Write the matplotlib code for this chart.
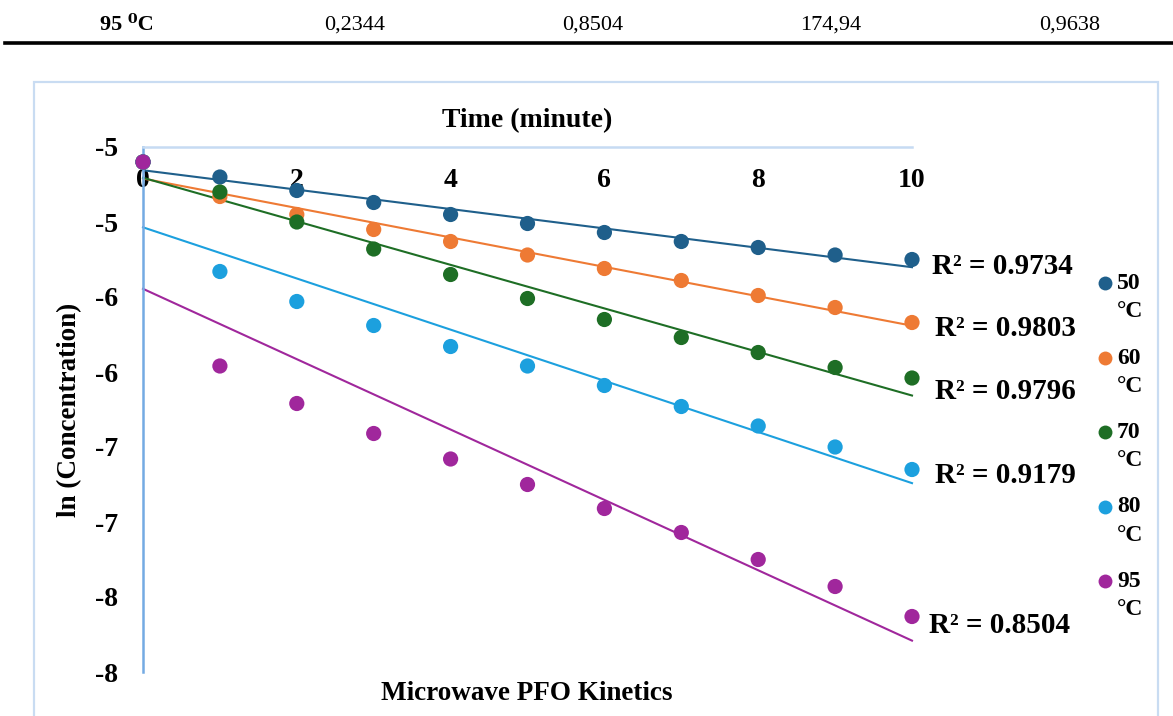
import numpy as np
import matplotlib
matplotlib.use("Agg")
import matplotlib.pyplot as plt
from matplotlib.patches import Rectangle
from matplotlib.lines import Line2D

# ---- data -------------------------------------------------------------
time_min = [0, 1, 2, 3, 4, 5, 6, 7, 8, 9, 10]
series_names = ["50\n°C", "60\n°C", "70\n°C", "80\n°C", "95\n°C"]
ln_c_50 = [-4.60, -4.70, -4.79, -4.87, -4.95, -5.01, -5.07, -5.13, -5.17, -5.22, -5.25]
ln_c_60 = [-4.60, -4.83, -4.95, -5.05, -5.13, -5.22, -5.31, -5.39, -5.49, -5.57, -5.67]
ln_c_70 = [-4.60, -4.80, -5.00, -5.18, -5.35, -5.51, -5.65, -5.77, -5.87, -5.97, -6.04]
ln_c_80 = [-4.60, -5.33, -5.53, -5.69, -5.83, -5.96, -6.09, -6.23, -6.36, -6.50, -6.65]
ln_c_95 = [-4.60, -5.96, -6.21, -6.41, -6.58, -6.75, -6.91, -7.07, -7.25, -7.43, -7.63]
r_squared = [0.9734, 0.9803, 0.9796, 0.9179, 0.8504]

x_ticks = [0, 2, 4, 6, 8, 10]
y_ticks = [-8.0, -7.5, -7.0, -6.5, -6.0, -5.5, -5.0, -4.5]
y_tick_labels = ["-8", "-8", "-7", "-7", "-6", "-6", "-5", "-5"]

table_row = ["95 ⁰C", "0,2344", "0,8504", "174,94", "0,9638"]

# ---- style ------------------------------------------------------------
colors = ["#1F5F8B", "#EE7A34", "#1E6E25", "#1CA0DE", "#A0279C"]
serif = ["Liberation Serif", "DejaVu Serif"]
plt.rcParams["font.family"] = serif

W, H = 1173, 716
fig = plt.figure(figsize=(W / 100, H / 100), dpi=100)


def fx(px):
    return px / W


def fy(py):
    return 1 - py / H


# table row above the chart
row_x = [127, 355, 593, 831, 1070]
for i, (txt, x) in enumerate(zip(table_row, row_x)):
    fig.text(fx(x), fy(25), txt, ha="center", va="center", fontsize=16,
             fontweight="bold" if i == 0 else "normal", family=serif)
fig.add_artist(Line2D([fx(5), fx(1173)], [fy(42.5), fy(42.5)],
                      transform=fig.transFigure, color="black", lw=2.6))

# chart frame
fig.add_artist(Rectangle((fx(34), fy(760)), fx(1158) - fx(34), fy(82) - fy(760),
                         transform=fig.transFigure, fill=False,
                         edgecolor="#C9DCF2", lw=1.6, clip_on=False))

# plot area
ax = fig.add_axes([fx(143), fy(672), fx(912) - fx(143), fy(147) - fy(672)])
ax.set_xlim(0, 10)
ax.set_ylim(-8, -4.5)
ax.patch.set_alpha(0)

for s in ("right", "bottom"):
    ax.spines[s].set_visible(False)
ax.spines["left"].set_color("#74AAE3")
ax.spines["left"].set_linewidth(1.8)
ax.spines["top"].set_color("#C6DBF3")
ax.spines["top"].set_linewidth(1.8)

ax.xaxis.tick_top()
ax.set_xticks(x_ticks)
ax.set_xticklabels([str(v) for v in x_ticks])
ax.tick_params(axis="x", length=0, pad=-33, labelsize=20)
ax.set_yticks(y_ticks)
ax.set_yticklabels(y_tick_labels)
ax.tick_params(axis="y", length=0, pad=18, labelsize=20)
for lab in ax.get_xticklabels() + ax.get_yticklabels():
    lab.set_fontweight("bold")

t = np.array(time_min, dtype=float)
all_series = [ln_c_50, ln_c_60, ln_c_70, ln_c_80, ln_c_95]
for vals, col, name in zip(all_series, colors, series_names):
    y = np.array(vals)
    slope, icpt = np.polyfit(t, y, 1)
    ax.plot([0, 10], [icpt, icpt + slope * 10], color=col, lw=1.5, zorder=2,
            clip_on=False)
    ax.scatter(t, y, s=120, color=col, zorder=3, clip_on=False,
               edgecolors="none", label=name)

# R² annotations next to the trend-line ends
r2_pos = [(10.26, -5.30), (10.30, -5.71), (10.30, -6.13), (10.30, -6.69), (10.22, -7.69)]
for (x, y), r2 in zip(r2_pos, r_squared):
    ax.text(x, y, f"R² = {r2:.4f}", ha="left", va="center", fontsize=21,
            fontweight="bold", clip_on=False)

# axis titles
fig.text(fx(527), fy(121), "Time (minute)", ha="center", va="center",
         fontsize=20, fontweight="bold")
fig.text(fx(527), fy(693), "Microwave PFO Kinetics", ha="center", va="center",
         fontsize=19.5, fontweight="bold")
fig.text(fx(70), fy(410), "ln (Concentration)", ha="center", va="center",
         rotation=90, fontsize=19.5, fontweight="bold")

# legend: marker beside the first line of each two-line label
leg_y0, leg_step = 283, 74.5
for i, (name, col) in enumerate(zip(series_names, colors)):
    yy = leg_y0 + i * leg_step
    fig.add_artist(Line2D([fx(1105)], [fy(yy)], transform=fig.transFigure,
                          marker="o", markersize=10, color=col,
                          markeredgewidth=0, linestyle="none"))
    fig.text(fx(1117), fy(yy - 10), name, ha="left", va="top", fontsize=17,
             fontweight="bold", linespacing=1.45)

fig.savefig("out.png", dpi=100)
